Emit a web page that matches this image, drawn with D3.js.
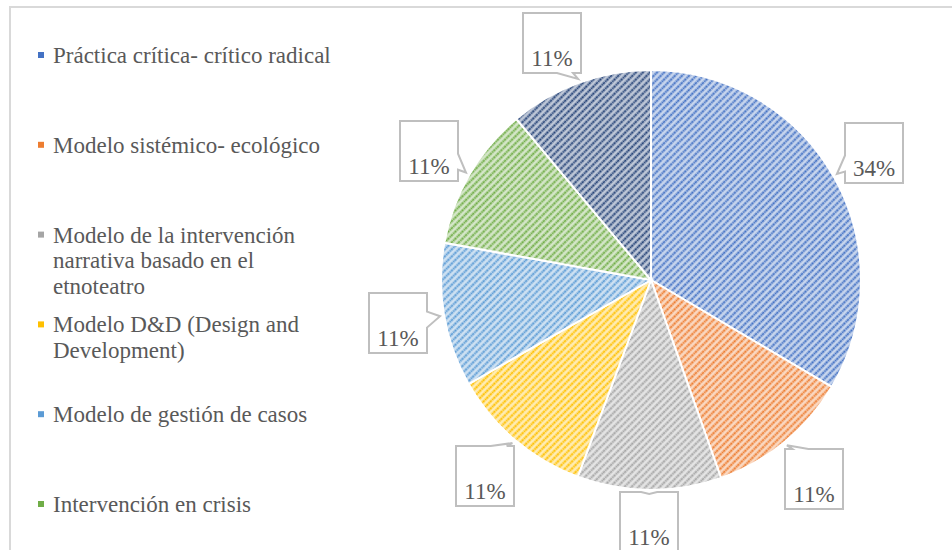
<!DOCTYPE html>
<html>
<head>
<meta charset="utf-8">
<script src="https://cdn.jsdelivr.net/npm/d3@7"></script>
<style>
  body { margin: 0; background: #fff; }
</style>
</head>
<body>
<script>
// chart data
var categories = [
  "Práctica crítica- crítico radical",
  "Modelo sistémico- ecológico",
  "Modelo de la intervención narrativa basado en el etnoteatro",
  "Modelo D&D (Design and Development)",
  "Modelo de gestión de casos",
  "Intervención en crisis",
  "Otro"
];
// shares (labels show 34% and 11%)
var values = [33.5, 11.08, 11.08, 11.08, 11.08, 11.08, 11.08];
// legend lines, wrapped like the original
var legendLines = [
  ["Práctica crítica- crítico radical"],
  ["Modelo sistémico- ecológico"],
  ["Modelo de la intervención", "narrativa basado en el", "etnoteatro"],
  ["Modelo D&D (Design and", "Development)"],
  ["Modelo de gestión de casos"],
  ["Intervención en crisis"]
];
var colors = ["#4472C4", "#ED7D31", "#A5A5A5", "#FFC000", "#5B9BD5", "#70AD47", "#264478"];

var FONT = "'Liberation Serif', 'Times New Roman', serif";
var width = 952, height = 550;
var cx = 651, cy = 280, radius = 210;

var svg = d3.select("body").append("svg")
    .attr("width", width)
    .attr("height", height);

// chart border (top and left edges visible)
svg.append("path")
    .attr("d", "M10,550V7H952")
    .attr("fill", "none")
    .attr("stroke", "#D9D9D9")
    .attr("stroke-width", 2);

// hatch patterns, one per colour
var defs = svg.append("defs");
colors.forEach(function(c, i) {
  var p = defs.append("pattern")
      .attr("id", "hatch" + i)
      .attr("patternUnits", "userSpaceOnUse")
      .attr("width", 5).attr("height", 5)
      .attr("patternTransform", "rotate(-45)");
  p.append("rect").attr("width", 5).attr("height", 5)
      .attr("fill", d3.interpolateRgb(c, "#fff")(0.7));
  p.append("line").attr("x1", 0).attr("y1", 2.5).attr("x2", 5).attr("y2", 2.5)
      .attr("stroke", c).attr("stroke-width", 2)
      .attr("stroke-dasharray", "2,0.6");
});

var total = d3.sum(values);
var pct = d3.format(".0%");
var pie = d3.pie().sort(null).value(function(d) { return d; });
var arcs = pie(values);
var arc = d3.arc().innerRadius(0).outerRadius(radius);

var g = svg.append("g").attr("transform", "translate(" + cx + "," + cy + ")");

g.selectAll(".slice")
  .data(arcs)
  .enter().append("path")
    .attr("class", "slice")
    .attr("d", arc)
    .attr("fill", function(d, i) { return "url(#hatch" + i + ")"; })
    .attr("stroke", "#fff")
    .attr("stroke-width", 2);

// callout labels
var boxW = 58, boxH = 60, labelR = 257, topLimit = 13, bottomLimit = 552;

function calloutPath(x, y, w, h, tx, ty) {
  // rectangle with a wedge on the side facing the tip
  var mx = x + w / 2, my = y + h / 2;
  var dx = tx - mx, dy = ty - my;
  var pts = [[x, y], [x + w, y], [x + w, y + h], [x, y + h]];
  var b = 8;
  var side;
  if (Math.abs(dx) / w > Math.abs(dy) / h) side = dx > 0 ? 1 : 3; else side = dy > 0 ? 2 : 0;
  var path = [];
  for (var k = 0; k < 4; k++) {
    var p0 = pts[k];
    path.push(p0);
    if (k === side) {
      var a, c;
      if (side === 0 || side === 2) {
        var px = Math.max(x + b + 2, Math.min(x + w - b - 2, mx + dx * 0.5));
        a = [px - b, p0[1]]; c = [px + b, p0[1]];
        if (side === 2) { var t = a; a = c; c = t; }
      } else {
        var py = Math.max(y + b + 2, Math.min(y + h - b - 2, my + dy * 0.5));
        a = [p0[0], py - b]; c = [p0[0], py + b];
        if (side === 3) { var t2 = a; a = c; c = t2; }
      }
      path.push(a, [tx, ty], c);
    }
  }
  return "M" + path.map(function(p) { return p[0] + "," + p[1]; }).join("L") + "Z";
}

var callouts = svg.append("g");
arcs.forEach(function(d, i) {
  var mid = (d.startAngle + d.endAngle) / 2;
  var la = mid;
  // slide the box along its circle until it clears the top edge
  var minCos = (cy - topLimit - boxH / 2) / labelR;
  if (Math.cos(la) > minCos) {
    var off = Math.acos(minCos);
    la = Math.sin(la) < 0 ? -off : off;
  }
  var bx = cx + labelR * Math.sin(la);
  var by = cy - labelR * Math.cos(la);
  by = Math.min(by, bottomLimit - boxH / 2);
  var tx = cx + (radius + 4) * Math.sin(mid);
  var ty = cy - (radius + 4) * Math.cos(mid);
  var x = Math.round(bx - boxW / 2), y = Math.round(by - boxH / 2);
  callouts.append("path")
      .attr("d", calloutPath(x, y, boxW, boxH, tx, ty))
      .attr("fill", "#fff")
      .attr("stroke", "#BFBFBF")
      .attr("stroke-width", 2);
  callouts.append("text")
      .attr("x", x + boxW / 2)
      .attr("y", y + 53)
      .attr("text-anchor", "middle")
      .attr("font-family", FONT)
      .attr("font-size", 23)
      .attr("fill", "#595959")
      .text(pct(d.data / total));
});

// legend
var legendY = d3.scaleLinear().domain([0, 1]).range([63, 152.8]);
var legend = svg.append("g");
legendLines.forEach(function(lines, i) {
  var y0 = legendY(i);
  legend.append("rect")
      .attr("x", 38).attr("y", y0 - 11)
      .attr("width", 6).attr("height", 6)
      .attr("fill", colors[i]);
  var t = legend.append("text")
      .attr("x", 53).attr("y", y0)
      .attr("font-family", FONT)
      .attr("font-size", 23)
      .attr("fill", "#595959");
  lines.forEach(function(l, j) {
    t.append("tspan").attr("x", 53).attr("dy", j === 0 ? 0 : 25.5).text(l);
  });
});
</script>
</body>
</html>
